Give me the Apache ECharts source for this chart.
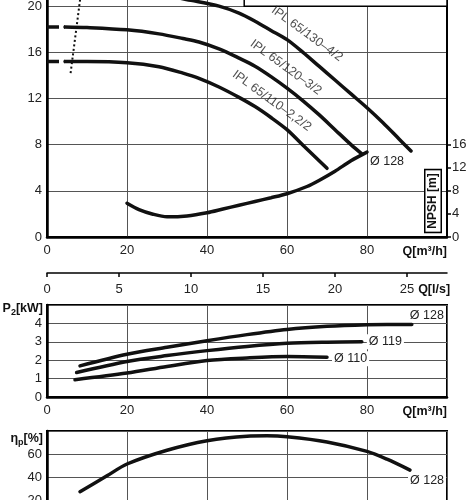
<!DOCTYPE html>
<html>
<head>
<meta charset="utf-8">
<script src="https://cdn.jsdelivr.net/npm/echarts@6/dist/echarts.min.js"></script>
<style>
  html, body { margin: 0; padding: 0; background: #fff; }
  #chart { width: 474px; height: 500px; }
</style>
</head>
<body>
<div id="chart"></div>
<script>
// tick labels
const qTicks = [0, 20, 40, 60, 80]
const lsTicks = [0, 5, 10, 15, 20, 25]
const headTicks = [0, 4, 8, 12, 16, 20]
const npshTicks = [0, 4, 8, 12, 16]
const powerTicks = [0, 1, 2, 3, 4]
const effTicks = [20, 40, 60]

// H(Q) curves, Q in m³/h, H in m
const dashQ = [0, 4.5]
const h130Dash = [21.4, 21.4]
const h120Dash = [18.2, 18.2]
const h110Dash = [15.2, 15.2]

const h130Q = [4.5, 10, 20, 30, 36, 43, 48, 52, 56, 60, 64, 68, 72, 76, 80, 84, 88, 91]
const h130H = [21.4, 21.4, 21.3, 20.9, 20.5, 20.0, 19.4, 18.7, 17.9, 17.1, 16.0, 14.8, 13.6, 12.4, 11.2, 9.9, 8.5, 7.45]
const h120Q = [4.5, 10, 20, 28, 34, 38, 43, 48, 52, 56, 60, 64, 68, 72, 76, 78.7]
const h120H = [18.2, 18.15, 17.95, 17.6, 17.2, 16.9, 16.3, 15.5, 14.8, 13.9, 12.9, 11.8, 10.6, 9.3, 8.0, 7.2]
const h110Q = [4.5, 10, 20, 28, 34, 38, 43, 48, 52, 56, 60, 64, 67, 70]
const h110H = [15.2, 15.2, 15.1, 14.75, 14.2, 13.75, 13.0, 12.1, 11.3, 10.35, 9.3, 7.95, 6.95, 5.95]

// NPSH (m), right axis
const npshQ = [20, 23, 26.5, 30, 35, 40, 44, 48, 52, 56, 60, 65, 68, 72, 76, 80]
const npshV = [5.85, 4.75, 3.95, 3.5, 3.65, 4.2, 4.85, 5.5, 6.15, 6.8, 7.5, 8.75, 9.8, 11.4, 13.2, 14.7]

// min flow line (dotted)
const limitQ = [5.9, 9.55]
const limitH = [14.2, 24]

// P2 (kW)
const p128Q = [8.25, 20, 30, 40, 50, 60, 70, 80, 85, 91.2]
const p128V = [1.69, 2.32, 2.7, 3.06, 3.39, 3.67, 3.84, 3.93, 3.94, 3.94]
const p119Q = [7.4, 20, 30, 40, 50, 60, 70, 78.7]
const p119V = [1.33, 1.93, 2.25, 2.52, 2.75, 2.92, 2.98, 3.0]
const p110Q = [7, 20, 30, 40, 50, 60, 70]
const p110V = [0.94, 1.3, 1.66, 1.98, 2.12, 2.2, 2.16]

// efficiency (%)
const effQ = [8.25, 15, 20, 30, 40, 50, 55, 60, 70, 80, 85, 90.75]
const effV = [27.2, 41, 51.3, 63.3, 71.6, 75.5, 75.8, 75, 70.5, 62.3, 55.5, 46]

const FONT = 'Liberation Sans'
const zip = (xs, ys) => xs.map((x, i) => [x, ys[i]])

const chart = echarts.init(document.getElementById('chart'), null, { renderer: 'canvas' })

const gridLine = { lineStyle: { color: '#555', width: 1 } }
const labelStyle = { color: '#222', fontFamily: FONT, fontSize: 13 }
const nameStyle = { color: '#111', fontFamily: FONT, fontSize: 12.5, fontWeight: 'bold' }

function qAxis (gridIndex, showLabels) {
  return {
    type: 'value', gridIndex, min: 0, max: 100, interval: 20,
    axisLine: { show: true, lineStyle: { color: '#000', width: 2.5 } },
    axisTick: { show: false },
    axisLabel: { show: showLabels, customValues: qTicks, margin: 7, ...labelStyle },
    splitLine: gridLine,
    name: showLabels ? 'Q[m³/h]' : '',
    nameLocation: 'end', nameGap: 0,
    nameTextStyle: { ...nameStyle, align: 'right', verticalAlign: 'top', padding: [8, 0, 0, 0] }
  }
}

function curve (data, xAxisIndex, yAxisIndex, extra) {
  return {
    type: 'line', data, xAxisIndex, yAxisIndex,
    smooth: 0.3, symbol: 'none', silent: true,
    lineStyle: { color: '#111', width: 3.5, cap: 'round' },
    ...extra
  }
}

function dashed (data) {
  return curve(data, 0, 0, { smooth: false, lineStyle: { color: '#111', width: 3.5, type: [12, 5], cap: 'butt' } })
}

const subRich = {
  s: { fontFamily: FONT, fontSize: 9, fontWeight: 'bold', color: '#111', padding: [7, 0, 0, 0] }
}

const endLbl = (text, offset, bg) => ({
  show: true, formatter: text, offset,
  color: '#222', fontFamily: FONT, fontSize: 12.5,
  backgroundColor: bg ? '#fff' : 'transparent',
  padding: bg ? [1, 2] : 0
})

const option = {
  animation: false,
  backgroundColor: '#fff',
  grid: [
    { left: 47, width: 400, top: -40, height: 277, show: true, borderColor: '#000', borderWidth: 2, outerBoundsMode: 'none' },
    { left: 47, width: 400, top: 273, height: 0, show: false, outerBoundsMode: 'none' },
    { left: 47, width: 400, top: 305, height: 92, show: true, borderColor: '#000', borderWidth: 2, outerBoundsMode: 'none' },
    { left: 47, width: 400, top: 431, height: 92, show: true, borderColor: '#000', borderWidth: 2, outerBoundsMode: 'none' }
  ],
  xAxis: [
    qAxis(0, true),
    {
      type: 'value', gridIndex: 1, min: 0, max: 100 / 3.6,
      axisLine: { show: true, lineStyle: { color: '#000', width: 1.5 } },
      axisTick: { show: true, customValues: lsTicks, length: 4, lineStyle: { color: '#000', width: 1.5 } },
      axisLabel: { customValues: lsTicks, margin: 10, ...labelStyle },
      splitLine: { show: false },
      name: 'Q[l/s]', nameLocation: 'end', nameGap: 0,
      nameTextStyle: { ...nameStyle, align: 'right', verticalAlign: 'top', padding: [10, 0, 0, 0] }
    },
    qAxis(2, true),
    qAxis(3, false)
  ],
  yAxis: [
    {
      type: 'value', gridIndex: 0, min: 0, max: 24, interval: 4,
      axisLine: { show: true, lineStyle: { color: '#000', width: 2.5 } },
      axisTick: { show: false },
      axisLabel: { customValues: headTicks, margin: 5, ...labelStyle },
      splitLine: gridLine
    },
    {
      type: 'value', gridIndex: 0, position: 'right', min: 0, max: 48,
      axisLine: { show: true, lineStyle: { color: '#000', width: 2 } },
      axisTick: { show: true, customValues: npshTicks, length: 4, lineStyle: { color: '#000', width: 1.5 } },
      axisLabel: { customValues: npshTicks, margin: 5, ...labelStyle },
      splitLine: { show: false }
    },
    { type: 'value', gridIndex: 1, show: false },
    {
      type: 'value', gridIndex: 2, min: 0, max: 5, interval: 1,
      axisLine: { show: true, lineStyle: { color: '#000', width: 2.5 } },
      axisTick: { show: false },
      axisLabel: { customValues: powerTicks, margin: 5, ...labelStyle },
      splitLine: gridLine,
      name: 'P{s|2}[kW]', nameLocation: 'end', nameGap: -9,
      nameTextStyle: { ...nameStyle, align: 'right', verticalAlign: 'middle', padding: [0, 4, 0, 0], rich: subRich }
    },
    {
      type: 'value', gridIndex: 3, min: 0, max: 80, interval: 20,
      axisLine: { show: true, lineStyle: { color: '#000', width: 2.5 } },
      axisTick: { show: false },
      axisLabel: { customValues: effTicks, margin: 5, ...labelStyle },
      splitLine: gridLine,
      name: 'η{s|p}[%]', nameLocation: 'end', nameGap: -8,
      nameTextStyle: { ...nameStyle, align: 'right', verticalAlign: 'middle', padding: [0, 4, 0, 0], rich: subRich }
    }
  ],
  series: [
    dashed(zip(dashQ, h130Dash)),
    curve(zip(h130Q, h130H), 0, 0),
    dashed(zip(dashQ, h120Dash)),
    curve(zip(h120Q, h120H), 0, 0),
    dashed(zip(dashQ, h110Dash)),
    curve(zip(h110Q, h110H), 0, 0),
    curve(zip(npshQ, npshV), 0, 1, { endLabel: endLbl('Ø 128', [-5, 9], false) }),
    {
      type: 'line', data: zip(limitQ, limitH), xAxisIndex: 0, yAxisIndex: 0,
      symbol: 'none', silent: true,
      lineStyle: { color: '#111', width: 2, type: [2, 2.5] },
      markArea: {
        silent: true,
        itemStyle: { color: '#fff', borderColor: '#000', borderWidth: 1.5 },
        data: [[{ xAxis: 49.3, yAxis: 20 }, { xAxis: 100, yAxis: 24 }]]
      }
    },
    {
      type: 'scatter', xAxisIndex: 0, yAxisIndex: 0, symbolSize: 0, silent: true,
      label: {
        show: true, position: 'inside', rotate: -36, formatter: '{b}',
        color: '#222', fontFamily: FONT, fontSize: 12.5
      },
      data: [
        { name: 'IPL 65/130–4/2', value: [65.0, 17.6] },
        { name: 'IPL 65/120–3/2', value: [59.7, 14.7] },
        { name: 'IPL 65/110–2,2/2', value: [56.2, 11.8] }
      ]
    },
    curve(zip(p128Q, p128V), 2, 3, { endLabel: endLbl('Ø 128', [-10, -9], false) }),
    curve(zip(p119Q, p119V), 2, 3, { endLabel: endLbl('Ø 119', [-3, 0], true) }),
    curve(zip(p110Q, p110V), 2, 3, { endLabel: endLbl('Ø 110', [-3, 1.5], true) }),
    curve(zip(effQ, effV), 3, 4, { endLabel: endLbl('Ø 128', [-10, 10], true) })
  ],
  graphic: [
    {
      type: 'text', x: 433, y: 201, rotation: Math.PI / 2, z: 100,
      style: {
        text: 'NPSH [m]', fill: '#111', font: 'bold 12px "Liberation Sans"',
        align: 'center', verticalAlign: 'middle',
        backgroundColor: '#fff', borderColor: '#000', borderWidth: 1.5, padding: [2, 3, 1, 3]
      }
    }
  ]
}

chart.setOption(option)
</script>
</body>
</html>
